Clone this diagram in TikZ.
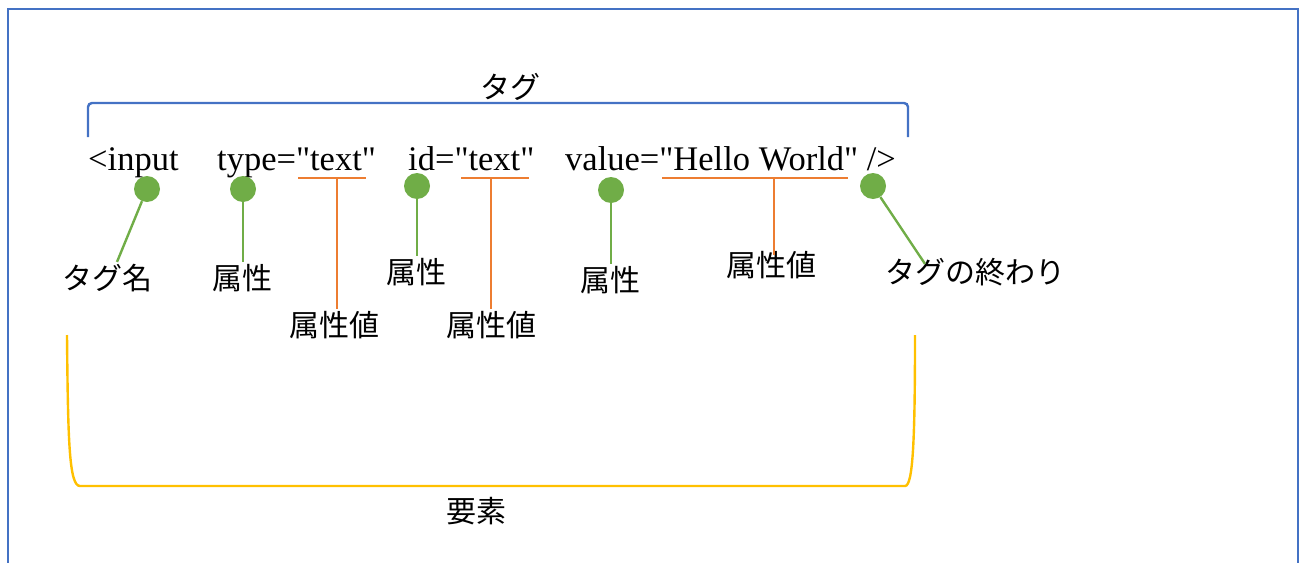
\documentclass[tikz,border=0pt]{standalone}
\usepackage{fontspec}
\setmainfont{Liberation Serif}
\newfontfamily\codefont{Liberation Serif}[Ligatures=ResetAll]
\newfontfamily\jp{Noto Sans CJK JP}
\definecolor{frameblue}{HTML}{4472C4}
\definecolor{dotgreen}{HTML}{70AD47}
\definecolor{valorange}{HTML}{ED7D31}
\definecolor{elemyellow}{HTML}{FFC000}
\begin{document}
\begin{tikzpicture}[x=1pt,y=-1pt,
  code/.style={font=\codefont\fontsize{34.5}{40}\selectfont, anchor=base west, inner sep=0pt},
  lab/.style={font=\jp\fontsize{30}{35}\selectfont, inner sep=2pt},
  dotnode/.style={circle, fill=dotgreen, minimum size=26pt, inner sep=0pt},
  gline/.style={draw=dotgreen, line width=2.4pt},
  oline/.style={draw=valorange, line width=2.4pt},
  frameline/.style={draw=frameblue, line width=2.6pt},
  tagbracket/.style={draw=frameblue, line width=2.4pt, rounded corners=4pt},
  elembracket/.style={draw=elemyellow, line width=2.4pt}]
\useasboundingbox (0,0) rectangle (1305,562);
% outer frame (open at bottom)
\draw[frameline] (8,564) -- (8,9) -- (1298,9) -- (1298,564);

% tag bracket
\draw[tagbracket] (88,137) -- (88,103) -- (908,103) -- (908,137);
\node[lab] (tg) at (510,87) {タグ};

% code text
\node[code] (c1) at (88,170) {<input};
\node[code] (c2) at (217,170) {type=\symbol{34}text\symbol{34}};
\node[code] (c3) at (408,170) {id=\symbol{34}text\symbol{34}};
\node[code] (c4) at (565,170) {value=\symbol{34}Hello World\symbol{34} />};

% green dots
\node[dotnode] (d1) at (147,189) {};
\node[dotnode] (d2) at (243,189) {};
\node[dotnode] (d3) at (417,186) {};
\node[dotnode] (d4) at (611,190) {};
\node[dotnode] (d5) at (873,186) {};

% labels
\node[lab] (l1) at (107,278) {タグ名};
\node[lab] (l2) at (242,278) {属性};
\node[lab] (l3) at (416,272) {属性};
\node[lab] (l4) at (610,280) {属性};
\node[lab] (l5) at (975,272) {タグの終わり};
\node[lab] (v1) at (334,325) {属性値};
\node[lab] (v2) at (491,325) {属性値};
\node[lab] (v3) at (771,265) {属性値};
\node[lab] (el) at (476,511) {要素};

% green connectors
\draw[gline] (d1) -- ([xshift=10pt]l1.north);
\draw[gline] (d2) -- (d2 |- l2.north);
\draw[gline] (d3) -- (d3 |- l3.north);
\draw[gline] (d4) -- (d4 |- l4.north);
\draw[gline] (d5) -- ([xshift=-50pt,yshift=-8pt]l5.north);

% orange value brackets
\coordinate (o1a) at (298,178);
\coordinate (o1b) at (366,178);
\coordinate (o2a) at (461,178);
\coordinate (o2b) at (529,178);
\coordinate (o3a) at (662,178);
\coordinate (o3b) at (848,178);
\draw[oline] (o1a) -- (o1b);
\draw[oline] ([xshift=3pt]v1.north) -- ([xshift=3pt]v1.north |- o1a);
\draw[oline] (o2a) -- (o2b);
\draw[oline] (v2.north) -- (v2.north |- o2a);
\draw[oline] (o3a) -- (o3b);
\draw[oline] ([xshift=3pt,yshift=-6pt]v3.north) -- ([xshift=3pt]v3.north |- o3a);

% element bracket
\draw[elembracket] (67,335) .. controls (68,440) and (69,486) .. (80,486)
  -- (905,486) .. controls (913,486) and (915,440) .. (915,335);
\end{tikzpicture}
\end{document}
